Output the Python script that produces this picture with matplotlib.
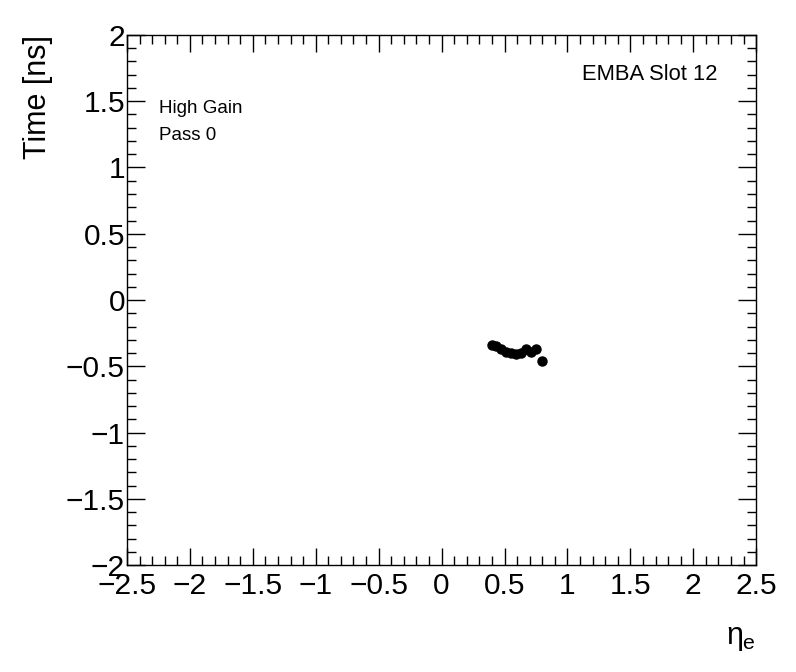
import matplotlib
matplotlib.use("Agg")
import matplotlib.pyplot as plt
from matplotlib.ticker import MultipleLocator

plt.rcParams["font.family"] = ["Liberation Sans", "DejaVu Sans"]
plt.rcParams["mathtext.fontset"] = "custom"
plt.rcParams["mathtext.rm"] = "Liberation Sans"
plt.rcParams["mathtext.it"] = "Liberation Sans"

# eta and timing values
eta = [0.40, 0.43, 0.47, 0.51, 0.55, 0.59, 0.63, 0.67, 0.71, 0.75, 0.80]
time_ns = [-0.34, -0.35, -0.37, -0.39, -0.40, -0.41, -0.40, -0.37, -0.39, -0.37, -0.46]

xlim = (-2.5, 2.5)
ylim = (-2.0, 2.0)

fig = plt.figure(figsize=(7.96, 6.72), dpi=100)
ax = fig.add_axes([0.1595, 0.159, 0.7905, 0.789])

ax.plot(eta, time_ns, "o", color="black", markersize=6.5)

ax.set_xlim(*xlim)
ax.set_ylim(*ylim)
ax.xaxis.set_major_locator(MultipleLocator(0.5))
ax.xaxis.set_minor_locator(MultipleLocator(0.1))
ax.yaxis.set_major_locator(MultipleLocator(0.5))
ax.yaxis.set_minor_locator(MultipleLocator(0.1))

ax.tick_params(which="both", direction="in", top=True, right=True, width=1, color="black")
ax.tick_params(axis="x", which="major", length=12, labelsize=21.5, pad=5)
ax.tick_params(axis="x", which="minor", length=6.5)
ax.tick_params(axis="y", which="major", length=13, labelsize=21.5, pad=1.5)
ax.tick_params(axis="y", which="minor", length=6.5)

def fmt(v, _):
    s = f"{v:g}"
    return s.replace("-", "\u2212")

ax.xaxis.set_major_formatter(fmt)
ax.yaxis.set_major_formatter(fmt)

for sp in ax.spines.values():
    sp.set_linewidth(1)

ax.set_ylabel("Time [ns]", fontsize=22)
ax.yaxis.set_label_coords(-0.118, 1.0)
ax.yaxis.label.set_horizontalalignment("right")
ax.set_xlabel(r"$\eta_{e}$", fontsize=22)
ax.xaxis.set_label_coords(1.0, -0.11)
ax.xaxis.label.set_horizontalalignment("right")

ax.text(0.051, 0.862, "High Gain", transform=ax.transAxes, fontsize=13.5, va="center")
ax.text(0.051, 0.811, "Pass 0", transform=ax.transAxes, fontsize=13.5, va="center")
ax.text(0.938, 0.925, "EMBA Slot 12", transform=ax.transAxes, fontsize=15.8, ha="right", va="center")

fig.savefig("out.png", dpi=100)
